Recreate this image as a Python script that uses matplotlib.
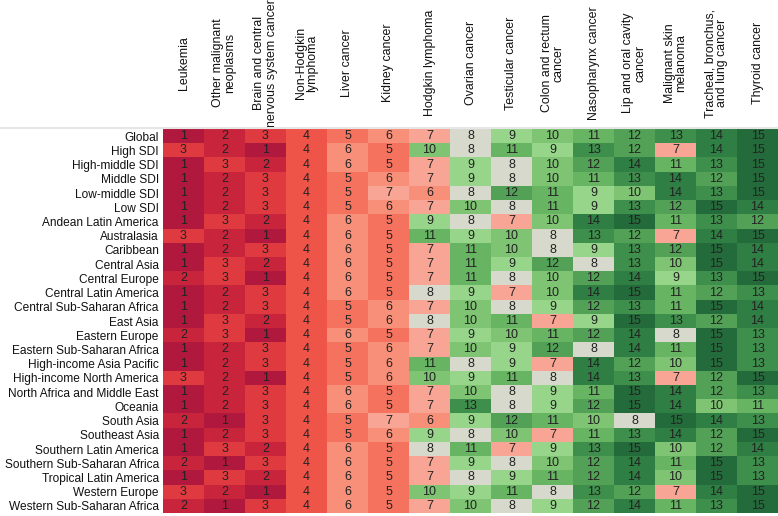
import matplotlib.pyplot as plt
import numpy as np
from matplotlib.colors import ListedColormap, BoundaryNorm
from matplotlib.lines import Line2D
from matplotlib.transforms import blended_transform_factory

plt.rcParams['font.family'] = ['Liberation Sans', 'DejaVu Sans']

cancers = ["Leukemia", "Other malignant\nneoplasms", "Brain and central\nnervous system cancer",
           "Non-Hodgkin\nlymphoma", "Liver cancer", "Kidney cancer", "Hodgkin lymphoma",
           "Ovarian cancer", "Testicular cancer", "Colon and rectum\ncancer",
           "Nasopharynx cancer", "Lip and oral cavity\ncancer", "Malignant skin\nmelanoma",
           "Tracheal, bronchus,\nand lung cancer", "Thyroid cancer"]

regions = ["Global", "High SDI", "High-middle SDI", "Middle SDI", "Low-middle SDI", "Low SDI",
           "Andean Latin America", "Australasia", "Caribbean", "Central Asia", "Central Europe",
           "Central Latin America", "Central Sub-Saharan Africa", "East Asia", "Eastern Europe",
           "Eastern Sub-Saharan Africa", "High-income Asia Pacific", "High-income North America",
           "North Africa and Middle East", "Oceania", "South Asia", "Southeast Asia",
           "Southern Latin America", "Southern Sub-Saharan Africa", "Tropical Latin America",
           "Western Europe", "Western Sub-Saharan Africa"]

ranks = [
    [1, 2, 3, 4, 5, 6, 7, 8, 9, 10, 11, 12, 13, 14, 15],
    [3, 2, 1, 4, 6, 5, 10, 8, 11, 9, 13, 12, 7, 14, 15],
    [1, 3, 2, 4, 6, 5, 7, 9, 8, 10, 12, 14, 11, 13, 15],
    [1, 2, 3, 4, 5, 6, 7, 9, 8, 10, 11, 13, 14, 12, 15],
    [1, 2, 3, 4, 5, 7, 6, 8, 12, 11, 9, 10, 14, 13, 15],
    [1, 2, 3, 4, 5, 6, 7, 10, 8, 11, 9, 13, 12, 15, 14],
    [1, 3, 2, 4, 6, 5, 9, 8, 7, 10, 14, 15, 11, 13, 12],
    [3, 2, 1, 4, 6, 5, 11, 9, 10, 8, 13, 12, 7, 14, 15],
    [1, 2, 3, 4, 6, 5, 7, 11, 10, 8, 9, 13, 12, 15, 14],
    [1, 3, 2, 4, 6, 5, 7, 11, 9, 12, 8, 13, 10, 15, 14],
    [2, 3, 1, 4, 6, 5, 7, 11, 8, 10, 12, 14, 9, 13, 15],
    [1, 2, 3, 4, 6, 5, 8, 9, 7, 10, 14, 15, 11, 12, 13],
    [1, 2, 3, 4, 5, 6, 7, 10, 8, 9, 12, 13, 11, 15, 14],
    [1, 3, 2, 4, 5, 6, 8, 10, 11, 7, 9, 15, 13, 12, 14],
    [2, 3, 1, 4, 6, 5, 7, 9, 10, 11, 12, 14, 8, 15, 13],
    [1, 2, 3, 4, 5, 6, 7, 10, 9, 12, 8, 14, 11, 15, 13],
    [1, 2, 3, 4, 5, 6, 11, 8, 9, 7, 14, 12, 10, 15, 13],
    [3, 2, 1, 4, 5, 6, 10, 9, 11, 8, 14, 13, 7, 12, 15],
    [1, 2, 3, 4, 6, 5, 7, 10, 8, 9, 11, 15, 14, 12, 13],
    [1, 2, 3, 4, 6, 5, 7, 13, 8, 9, 12, 15, 14, 10, 11],
    [2, 1, 3, 4, 5, 7, 6, 9, 12, 11, 10, 8, 15, 14, 13],
    [1, 2, 3, 4, 5, 6, 9, 8, 10, 7, 11, 13, 14, 12, 15],
    [1, 3, 2, 4, 6, 5, 8, 11, 7, 9, 13, 15, 10, 12, 14],
    [2, 1, 3, 4, 6, 5, 7, 9, 8, 10, 12, 14, 11, 15, 13],
    [1, 3, 2, 4, 6, 5, 7, 8, 9, 11, 12, 14, 10, 15, 13],
    [3, 2, 1, 4, 6, 5, 10, 9, 11, 8, 13, 12, 7, 14, 15],
    [2, 1, 3, 4, 6, 5, 7, 10, 8, 9, 12, 14, 11, 13, 15],
]

# one colour per rank 1..15
rank_colors = ["#b0183d", "#c8253c", "#de3a40", "#ef5449", "#f5735e", "#f89079", "#f8a595",
               "#d6d9cc", "#97d68a", "#7ec473", "#67b462", "#52a157", "#3e8e4c", "#2f7e43",
               "#246b3b"]

data = np.array(ranks)
cmap = ListedColormap(rank_colors)
norm = BoundaryNorm(np.arange(0.5, 16.5, 1), cmap.N)

fig = plt.figure(figsize=(7.78, 5.16), dpi=100)
ax = fig.add_axes([163 / 778, 3 / 516, 615 / 778, 384 / 516])
ax.imshow(data, cmap=cmap, norm=norm, aspect='auto', interpolation='nearest')

for i in range(data.shape[0]):
    for j in range(data.shape[1]):
        ax.text(j, i, str(data[i, j]), ha='center', va='center', fontsize=9, color='#222222')

# column labels: rotated and centred vertically in the header band
trans = blended_transform_factory(ax.transData, fig.transFigure)
for j, name in enumerate(cancers):
    ax.text(j, 1 - 63 / 516, name, transform=trans, rotation=90, ha='center', va='center',
            multialignment='center', fontsize=8.9, linespacing=1.0, color='#111111')

ax.set_xticks([])
ax.set_yticks(range(len(regions)))
ax.set_yticklabels(regions, fontsize=8.6, color='#111111')
ax.tick_params(length=0, pad=3)
for s in ax.spines.values():
    s.set_visible(False)

fig.add_artist(Line2D([0, 1], [388 / 516, 388 / 516], color='#e6e6e6', lw=1.5))

fig.savefig('out.png', dpi=100)
